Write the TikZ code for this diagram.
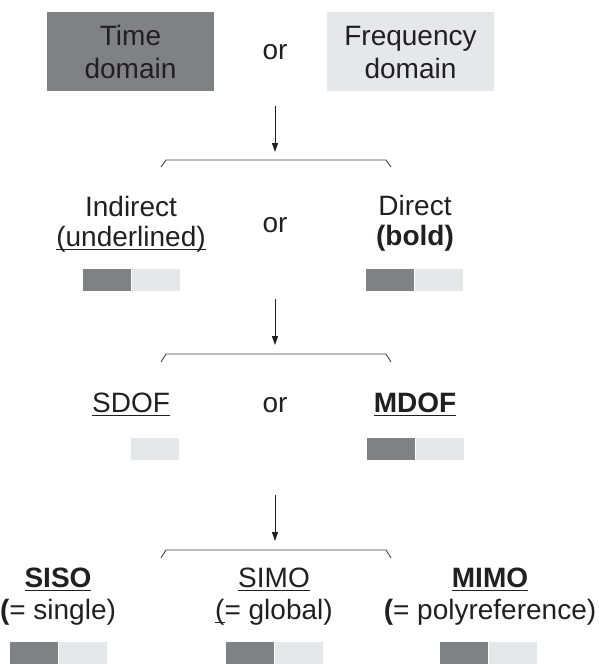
\documentclass[tikz,border=0pt]{standalone}
\usepackage{fontspec}
\setmainfont{Liberation Sans}
\usetikzlibrary{arrows.meta}
\definecolor{darkbar}{HTML}{808184}
\definecolor{lightbar}{HTML}{E6E7E8}
\definecolor{ink}{HTML}{231F20}
% underline drawn as a rule at a fixed depth below the baseline
\newsavebox\ulbox
\newcommand\uln[1]{\sbox\ulbox{#1}\rlap{\rule[-4.4pt]{\wd\ulbox}{1.8pt}}\usebox\ulbox}
\tikzset{
  txt/.style={font=\fontsize{28}{32}\selectfont, text=ink, align=center, inner sep=0pt},
  domainbox/.style={minimum width=167pt, minimum height=79pt, inner sep=0pt},
  flow/.style={draw=ink, line width=1pt, -{Triangle[length=9pt,width=6pt]}},
  bracket/.style={draw=ink!85, line width=0.9pt},
  darkhalf/.style={fill=darkbar, minimum width=48pt, minimum height=22pt, inner sep=0pt, anchor=north west},
  lighthalf/.style={fill=lightbar, minimum width=48pt, minimum height=22pt, inner sep=0pt, anchor=north west},
}
\begin{document}
\begin{tikzpicture}[x=1pt,y=-1pt]
\useasboundingbox (0,0) rectangle (598,664);

% ---- level 1: domain
\node[domainbox, fill=darkbar] (time) at (130.5,51.5) {};
\node[domainbox, fill=lightbar] (freq) at (410.5,51.5) {};
\node[txt, anchor=base, font=\fontsize{28}{33}\selectfont] (timetxt) at (130.5,78) {Time\\domain};
\node[txt, anchor=base, font=\fontsize{28}{33}\selectfont] (freqtxt) at (410.5,78) {Frequency\\domain};
\node[txt, anchor=base] (or1) at (275,59) {or};

\coordinate (a1s) at (275,106);
\coordinate (a1e) at (275,152);
\draw[flow] (a1s) -- (a1e);
\coordinate (k1l) at (161,167);
\coordinate (k1a) at (166,160);
\coordinate (k1b) at (386,160);
\coordinate (k1r) at (391,167);
\draw[bracket] (k1l) -- (k1a) -- (k1b) -- (k1r);

% ---- level 2: indirect / direct
\node[txt, anchor=base, font=\fontsize{28}{30}\selectfont] (indirect) at (131,246) {Indirect\\\uln{(underlined)}};
\node[txt, anchor=base] (or2) at (275,232) {or};
\node[txt, anchor=base, font=\fontsize{28}{30}\selectfont] (direct) at (415,245) {Direct\\\textbf{(bold)}};
\node[darkhalf] (b2ld) at (83,269) {};
\node[lighthalf] (b2ll) at (b2ld.north east) {};
\node[darkhalf] (b2rd) at (366,269) {};
\node[lighthalf] (b2rl) at (b2rd.north east) {};

\coordinate (a2s) at (275,299);
\coordinate (a2e) at (275,345);
\draw[flow] (a2s) -- (a2e);
\coordinate (k2l) at (161,362);
\coordinate (k2a) at (166,354);
\coordinate (k2b) at (386,354);
\coordinate (k2r) at (391,362);
\draw[bracket] (k2l) -- (k2a) -- (k2b) -- (k2r);

% ---- level 3: SDOF / MDOF
\node[txt, anchor=base] (sdof) at (131,412) {\uln{SDOF}};
\node[txt, anchor=base] (or3) at (275,412) {or};
\node[txt, anchor=base] (mdof) at (415,412) {\uln{\textbf{MDOF}}};
\node[lighthalf] (b3ll) at (131,438) {};
\node[darkhalf] (b3rd) at (367,438) {};
\node[lighthalf] (b3rl) at (b3rd.north east) {};

\coordinate (a3s) at (275,495);
\coordinate (a3e) at (275,541);
\draw[flow] (a3s) -- (a3e);
\coordinate (k3l) at (161,558);
\coordinate (k3a) at (166,550);
\coordinate (k3b) at (386,550);
\coordinate (k3r) at (391,558);
\draw[bracket] (k3l) -- (k3a) -- (k3b) -- (k3r);

% ---- level 4: SISO / SIMO / MIMO
\node[txt, anchor=base] (siso) at (58,619) {\uln{\textbf{SISO}}\\\textbf{(}= single)};
\node[txt, anchor=base] (simo) at (274,619) {\uln{SIMO}\\\uln{(}= global)};
\node[txt, anchor=base] (mimo) at (490,619) {\uln{\textbf{MIMO}}\\\textbf{(}= polyreference)};
\node[darkhalf] (b4ad) at (10,642) {};
\node[lighthalf] (b4al) at (b4ad.north east) {};
\node[darkhalf] (b4bd) at (226,642) {};
\node[lighthalf] (b4bl) at (b4bd.north east) {};
\node[darkhalf] (b4cd) at (440,642) {};
\node[lighthalf] (b4cl) at (b4cd.north east) {};
\end{tikzpicture}
\end{document}
